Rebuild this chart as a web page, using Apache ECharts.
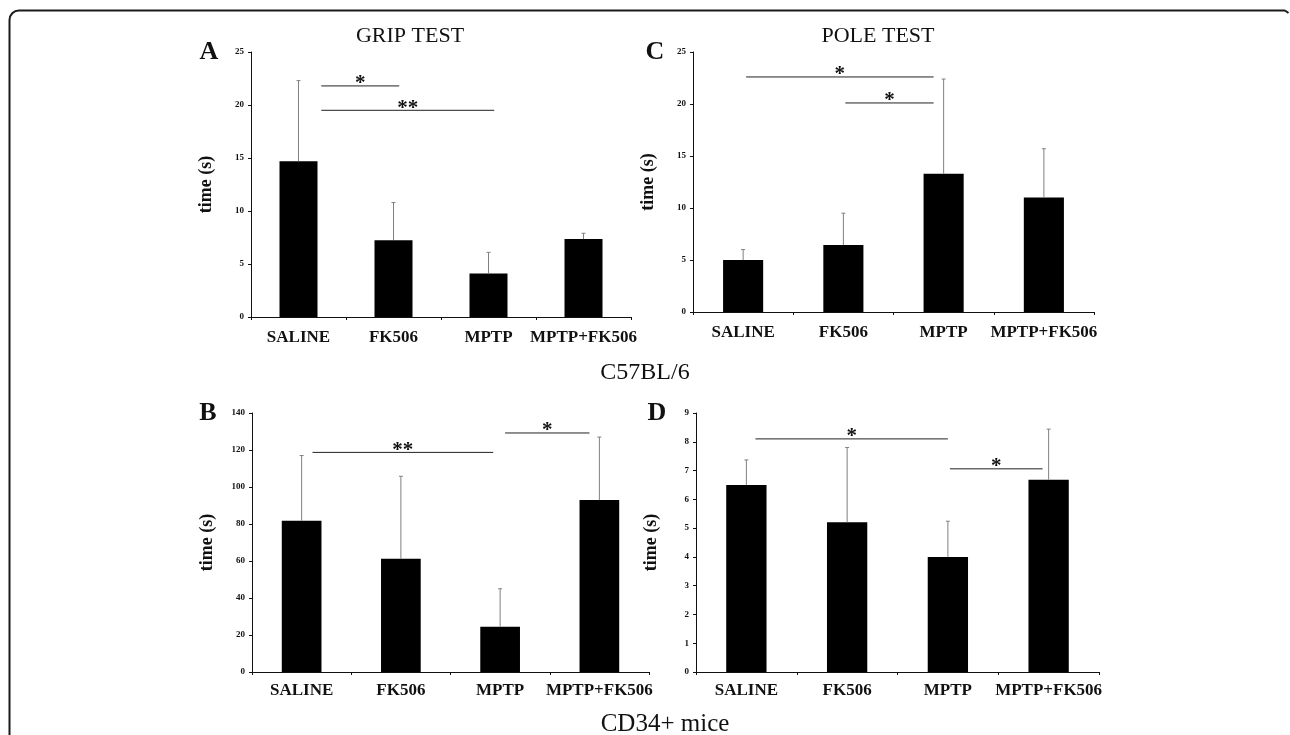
<!DOCTYPE html>
<html>
<head>
<meta charset="utf-8">
<script src="https://cdn.jsdelivr.net/npm/echarts@6/dist/echarts.min.js"></script>
<style>html,body{margin:0;padding:0;background:#fff;}#c{width:1290px;height:735px;}</style>
</head>
<body>
<div id="c"></div>
<script>
var categories = ['SALINE', 'FK506', 'MPTP', 'MPTP+FK506'];
// A: grip test C57BL/6
var gripMean = [14.7, 7.25, 4.1, 7.35];
var gripSd = [7.6, 3.55, 2.0, 0.55];
var gripSig = [[0.24, 1.06, 21.8, '*'], [0.24, 2.06, 19.5, '**']];
// C: pole test C57BL/6
var poleMean = [5.0, 6.45, 13.3, 11.0];
var poleSd = [1.0, 3.05, 9.1, 4.7];
var poleSig = [[0.03, 1.9, 22.6, '*'], [1.02, 1.9, 20.1, '*']];
// B: grip test CD34+
var cdGripMean = [81.7, 61.2, 24.5, 93];
var cdGripSd = [35.3, 44.6, 20.5, 34];
var cdGripSig = [[0.11, 1.93, 118.7, '**'], [2.05, 2.9, 129.2, '*']];
// D: pole test CD34+
var cdPoleMean = [6.5, 5.2, 4.0, 6.68];
var cdPoleSd = [0.87, 2.6, 1.24, 1.76];
var cdPoleSig = [[0.09, 2.0, 8.1, '*'], [2.02, 2.94, 7.06, '*']];

var yTicks = [{max: 25, interval: 5}, {max: 25, interval: 5}, {max: 140, interval: 20}, {max: 9, interval: 1}];

var SERIF = '"Liberation Serif", "Times New Roman", serif';
var grids = [
  {left: 251, top: 52, width: 380, height: 265},
  {left: 693, top: 52, width: 401, height: 260},
  {left: 252, top: 413, width: 397, height: 259},
  {left: 696, top: 413, width: 403, height: 259}
];
var labelMargins = [12, 12, 10, 10];
var panels = [
  {mean: gripMean, sd: gripSd, sig: gripSig},
  {mean: poleMean, sd: poleSd, sig: poleSig},
  {mean: cdGripMean, sd: cdGripSd, sig: cdGripSig},
  {mean: cdPoleMean, sd: cdPoleSd, sig: cdPoleSig}
];

var xAxes = [], yAxes = [], series = [];
panels.forEach(function (p, i) {
  xAxes.push({
    type: 'category', gridIndex: i, data: categories,
    axisLine: {onZero: false, lineStyle: {color: '#111', width: 1}},
    axisTick: {show: true, length: 3, lineStyle: {color: '#111'}},
    axisLabel: {color: '#111', fontFamily: SERIF, fontWeight: 'bold', fontSize: 17, margin: labelMargins[i], interval: 0}
  });
  xAxes.push({type: 'value', gridIndex: i, min: -0.5, max: 3.5, show: false});
  yAxes.push({
    type: 'value', gridIndex: i, min: 0, max: yTicks[i].max, interval: yTicks[i].interval,
    name: 'time (s)', nameLocation: 'middle', nameRotate: 90, nameGap: 36,
    nameTextStyle: {color: '#111', fontFamily: SERIF, fontWeight: 'bold', fontSize: 18},
    axisLine: {show: true, onZero: false, lineStyle: {color: '#111', width: 1}},
    axisTick: {show: true, length: 3, lineStyle: {color: '#111'}},
    splitLine: {show: false},
    axisLabel: {color: '#111', fontFamily: SERIF, fontWeight: 'bold', fontSize: 9, margin: 7}
  });
  series.push({
    type: 'bar', xAxisIndex: 2 * i, yAxisIndex: i, data: p.mean, barWidth: '40%',
    itemStyle: {color: '#000'}, silent: true
  });
  series.push({
    type: 'custom', xAxisIndex: 2 * i + 1, yAxisIndex: i, silent: true,
    data: p.mean.map(function (m, k) { return [k, m, m + p.sd[k]]; }),
    renderItem: function (params, api) {
      var a = api.coord([api.value(0), api.value(1)]);
      var b = api.coord([api.value(0), api.value(2)]);
      return {type: 'group', children: [
        {type: 'line', shape: {x1: a[0], y1: a[1], x2: b[0], y2: b[1]}, style: {stroke: '#808080', lineWidth: 1}},
        {type: 'line', shape: {x1: b[0] - 2, y1: b[1], x2: b[0] + 2, y2: b[1]}, style: {stroke: '#808080', lineWidth: 1}}
      ]};
    },
    z: 3
  });
  series.push({
    type: 'custom', xAxisIndex: 2 * i + 1, yAxisIndex: i, silent: true,
    data: p.sig,
    renderItem: function (params, api) {
      var s = api.coord([api.value(0), api.value(2)]);
      var e = api.coord([api.value(1), api.value(2)]);
      var lbl = p.sig[params.dataIndex][3];
      return {type: 'group', children: [
        {type: 'line', shape: {x1: s[0], y1: s[1], x2: e[0], y2: e[1]}, style: {stroke: '#222', lineWidth: 1}},
        {type: 'text', style: {text: lbl, x: (s[0] + e[0]) / 2, y: s[1] - 2, textAlign: 'center', textVerticalAlign: 'middle',
          font: 'bold 21px ' + SERIF, fill: '#111'}}
      ]};
    },
    z: 4
  });
});

function txt(t, x, y, size, bold) {
  return {type: 'text', x: x, y: y, style: {text: t, textAlign: 'center', textVerticalAlign: 'middle',
    font: (bold ? 'bold ' : '') + size + 'px ' + SERIF, fill: '#111'}};
}
var frameStyle = {stroke: '#1a1a1a', lineWidth: 2, fill: 'none'};

var chart = echarts.init(document.getElementById('c'), null, {renderer: 'canvas'});
chart.setOption({
  backgroundColor: '#fff',
  animation: false,
  grid: grids,
  xAxis: xAxes,
  yAxis: yAxes,
  series: series,
  graphic: [
    {type: 'line', shape: {x1: 9.5, y1: 20, x2: 9.5, y2: 740}, style: frameStyle, silent: true},
    {type: 'line', shape: {x1: 19, y1: 10.5, x2: 1285, y2: 10.5}, style: frameStyle, silent: true},
    {type: 'arc', shape: {cx: 19, cy: 20, r: 9.5, startAngle: Math.PI, endAngle: Math.PI * 1.5}, style: frameStyle, silent: true},
    {type: 'line', shape: {x1: 1285, y1: 10.5, x2: 1288.5, y2: 13}, style: frameStyle, silent: true},
    txt('A', 209, 52, 26, true),
    txt('C', 655, 52, 26, true),
    txt('B', 208, 413, 26, true),
    txt('D', 657, 413, 26, true),
    txt('GRIP TEST', 410, 36, 22, false),
    txt('POLE TEST', 878, 36, 22, false),
    txt('C57BL/6', 645, 373, 24, false),
    txt('CD34+ mice', 665, 724, 25, false)
  ]
});
</script>
</body>
</html>
